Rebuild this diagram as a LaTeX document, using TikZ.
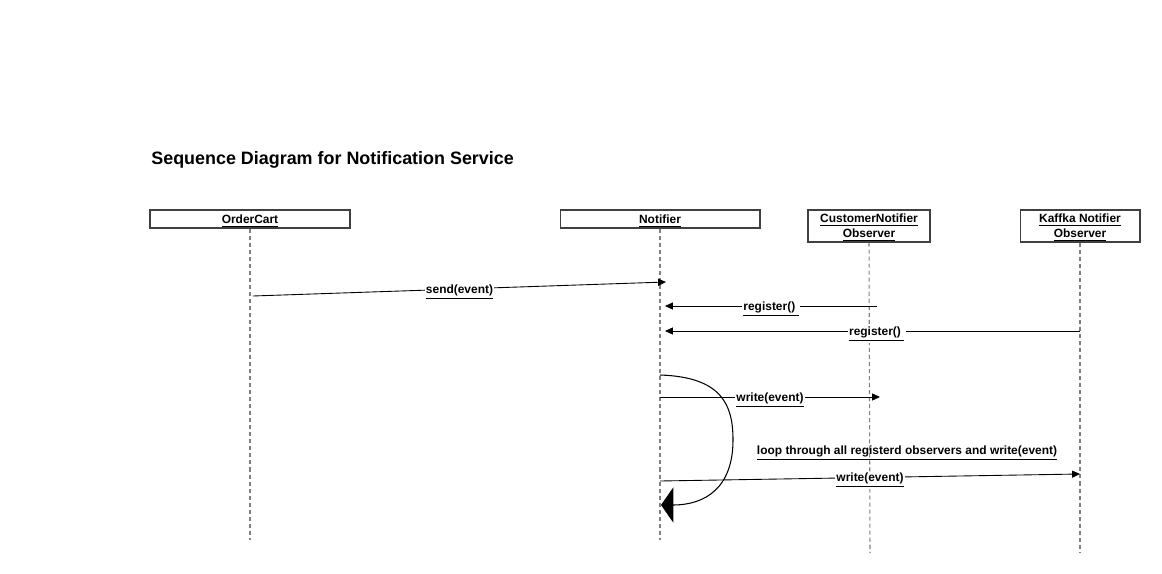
\documentclass[tikz,border=0pt]{standalone}
\usepackage{fontspec}
\setmainfont{Liberation Sans}
\usetikzlibrary{arrows.meta}

\tikzset{
  actor/.style={draw=black!75, line width=0.6pt, fill=white, align=center, inner sep=0pt,
    text depth=0pt, font=\fontsize{6.8}{8.4}\selectfont\bfseries},
  lifeline/.style={draw=black!50, line width=0.6pt, dash pattern=on 2.3pt off 1.7pt},
  msg/.style={line width=0.5pt, -{Triangle[length=4.5pt,width=4pt]}},
  lbl/.style={fill=white, inner sep=0.8pt, yshift=-1.6pt, font=\fontsize{6.8}{7.8}\selectfont\bfseries}
}

\begin{document}
\begin{tikzpicture}[x=0.02cm,y=-0.02cm]
\useasboundingbox (0,0) rectangle (1162,574);

% title
\node [anchor=west, inner sep=0pt, font=\fontsize{10.2}{12}\selectfont\bfseries] (title) at (151,160) {Sequence Diagram for Notification Service};

% actors
\node [actor, minimum width=4cm, minimum height=0.36cm] (cart) at (250,219) {\underline{OrderCart}};
\node [actor, minimum width=4cm, minimum height=0.36cm] (notifier) at (660,219) {\underline{Notifier}};
\node [actor, minimum width=2.44cm, minimum height=0.64cm] (customer) at (869,226) {\underline{CustomerNotifier}\\\underline{Observer}};
\node [actor, minimum width=2.4cm, minimum height=0.64cm] (kafka) at (1080,226) {\underline{Kaffka Notifier}\\\underline{Observer}};

% lifelines
\coordinate (cart end) at (250,540);
\coordinate (notifier end) at (660,540);
\coordinate (customer end) at (870,553);
\coordinate (kafka end) at (1080,553);
\draw [lifeline] (cart.south) -- (cart end);
\draw [lifeline] (notifier.south) -- (notifier end);
\draw [lifeline] (customer.south) -- (customer end);
\draw [lifeline] (kafka.south) -- (kafka end);

% messages
\coordinate (send a) at (253,296);
\coordinate (send b) at (666,282);
\draw [msg] (send a) -- (send b) node [lbl, midway] (send lbl) {\underline{send(event)}};

\coordinate (reg1 a) at (877,306);
\coordinate (reg1 b) at (665,306);
\draw [msg] (reg1 a) -- (reg1 b) node [lbl, midway] (reg1 lbl) {\underline{register()~}};

\coordinate (reg2 a) at (1080,331);
\coordinate (reg2 b) at (665,331);
\draw [msg] (reg2 a) -- (reg2 b) node [lbl, pos=0.49] (reg2 lbl) {\underline{register()~}};

\coordinate (write1 a) at (660,397);
\coordinate (write1 b) at (880,397);
\draw [msg] (write1 a) -- (write1 b) node [lbl, midway] (write1 lbl) {\underline{write(event)}};

\node [lbl, fill=none] (loop lbl) at (907,450) {\underline{loop through all registerd observers and write(event)}};

\coordinate (write2 a) at (660,481);
\coordinate (write2 b) at (1080,474);
\draw [msg] (write2 a) -- (write2 b) node [lbl, midway] (write2 lbl) {\underline{write(event)}};

% self loop
\coordinate (loop a) at (660,375);
\coordinate (loop b) at (661,505);
\draw [line width=0.6pt, -{Triangle[length=7pt,width=20pt]}] (loop a) .. controls (722,377) and (733,405) .. (733,440) .. controls (733,488) and (705,505) .. (loop b);
\end{tikzpicture}
\end{document}
